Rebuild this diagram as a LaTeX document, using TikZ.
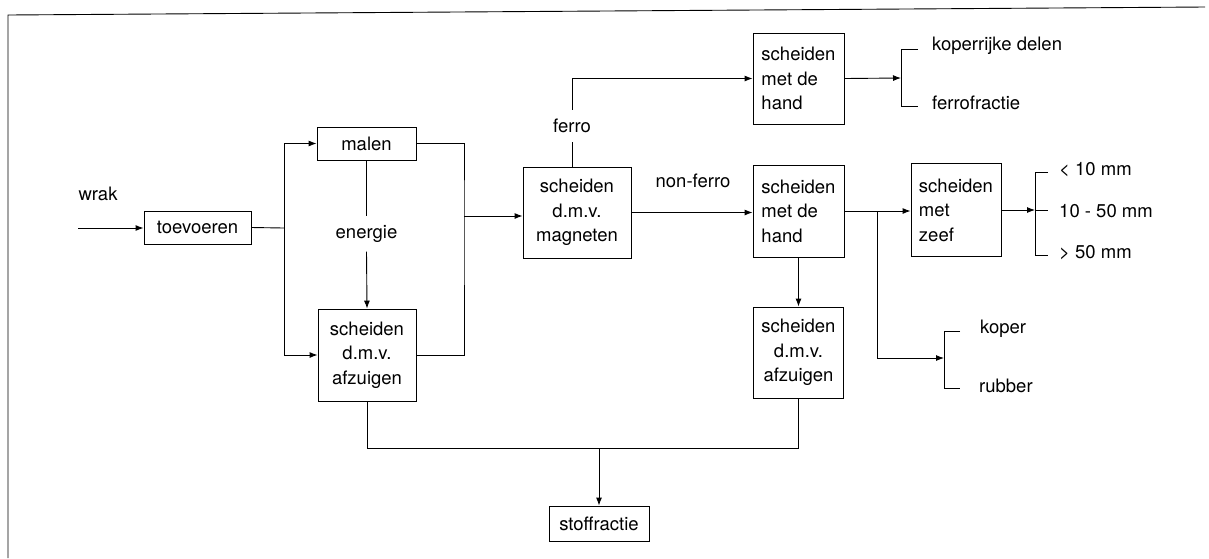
\documentclass[tikz,border=0pt]{standalone}
\usepackage{fontspec}
\setmainfont{TeX Gyre Heros}
\usetikzlibrary{arrows.meta}
\begin{document}
\begin{tikzpicture}[x=1pt,y=-1pt,
  every node/.style={font=\fontsize{18.5}{24.5}\selectfont},
  box/.style={draw, line width=0.9pt, inner sep=0pt, align=center},
  boxl/.style={box, align=left},
  lbl/.style={inner sep=0pt},
  ln/.style={line width=0.9pt},
  arr/.style={ln, -{Latex[length=8pt,width=6pt]}}
]
\useasboundingbox (0,0) rectangle (1209,558);
% frame
\coordinate (f1) at (8,558);
\coordinate (f2) at (8,15);
\coordinate (f3) at (1205,7);
\draw[ln] (f1) -- (f2) -- (f3);

% boxes
\node[box, minimum width=107pt, minimum height=33pt] (toev) at (197.5,227.5) {toevoeren};
\node[box, minimum width=99pt, minimum height=33pt] (malen) at (366.5,143.5) {malen};
\node[box, minimum width=98pt, minimum height=92pt] (afz1) at (367,355) {scheiden\\d.m.v.\\afzuigen};
\node[box, minimum width=108pt, minimum height=91pt] (magn) at (577,212.5) {scheiden\\d.m.v.\\magneten};
\node[boxl, minimum width=91pt, minimum height=91pt] (hand1) at (798.5,78.5) {scheiden\\met de\\hand};
\node[boxl, minimum width=91pt, minimum height=92pt] (hand2) at (798.5,211) {scheiden\\met de\\hand};
\node[boxl, minimum width=90pt, minimum height=93pt] (zeef) at (956,210) {scheiden\\met\\zeef};
\node[box, minimum width=90pt, minimum height=91pt] (afz2) at (798.5,352.5) {scheiden\\d.m.v.\\afzuigen};
\node[box, minimum width=100pt, minimum height=35pt] (stof) at (599,523.5) {stoffractie};

% labels
\node[lbl] (wrak) at (98,194) {wrak};
\node[inner sep=0pt, minimum height=35pt] (energie) at (366.5,234) {energie};
\node[inner sep=0pt, minimum height=32pt] (ferro) at (572,126) {ferro};
\node[lbl] (nonferro) at (693,181) {non-ferro};
\node[lbl, anchor=west] (kop1) at (932,46) {koperrijke delen};
\node[lbl, anchor=west] (ferrof) at (932,103) {ferrofractie};
\node[lbl, anchor=west] (s1) at (1059,170) {< 10 mm};
\node[lbl, anchor=west] (s2) at (1059,211) {10 - 50 mm};
\node[lbl, anchor=west] (s3) at (1059,253) {> 50 mm};
\node[lbl, anchor=west] (koper) at (980,329) {koper};
\node[lbl, anchor=west] (rubber) at (979,386) {rubber};

% input
\coordinate (in) at (78,228);
\draw[arr] (in) -- (in -| toev.west);

% toevoeren split
\coordinate (j1) at (284,228);
\draw[ln] (toev.east) -- (j1);
\draw[arr] (j1) |- (malen.west);
\draw[arr] (j1) |- (afz1.west);

% malen / afzuigen merge
\coordinate (r1) at (464,216);
\draw[ln] (malen.east) -| (r1) |- (afz1.east);
\draw[arr] (r1) -- (r1 -| magn.west);

% energie
\draw[ln] (malen.south) -- (energie.north);
\draw[arr] (energie.south) -- (afz1.north);

% ferro
\draw[ln] (ferro.south) -- (ferro.south |- magn.north);
\draw[arr] (ferro.north) |- (hand1.west);

% non-ferro
\draw[arr] (magn.east) -- (magn.east -| hand2.west);

% hand1 output bracket
\coordinate (b1) at (901,78);
\coordinate (b1t) at (901,49);
\coordinate (b1b) at (901,106);
\draw[arr] (hand1.east) -- (b1);
\draw[ln] (918,49) -- (b1t) -- (b1b) -- (918,106);

% hand2 to zeef and branch
\coordinate (j3) at (877,211);
\draw[arr] (hand2.east) -- (hand2.east -| zeef.west);
\coordinate (b3) at (944,358);
\draw[arr] (j3) |- (b3);
\coordinate (b3t) at (944,331);
\coordinate (b3b) at (944,388);
\draw[ln] (960,331) -- (b3t) -- (b3b) -- (960,388);

% zeef output bracket
\coordinate (b2) at (1035,210);
\draw[arr] (zeef.east) -- (b2);
\coordinate (b2t) at (1035,172);
\coordinate (b2b) at (1035,255);
\draw[ln] (1048,172) -- (b2t) -- (b2b) -- (1048,255);
\draw[ln] (b2) -- (1048,210);

% hand2 to afzuigen2
\draw[arr] (hand2.south) -- (afz2.north);

% to stoffractie
\coordinate (bl) at (599,448);
\draw[ln] (afz1.south) |- (bl) -| (afz2.south);
\draw[arr] (bl) -- (stof.north);
\end{tikzpicture}
\end{document}
